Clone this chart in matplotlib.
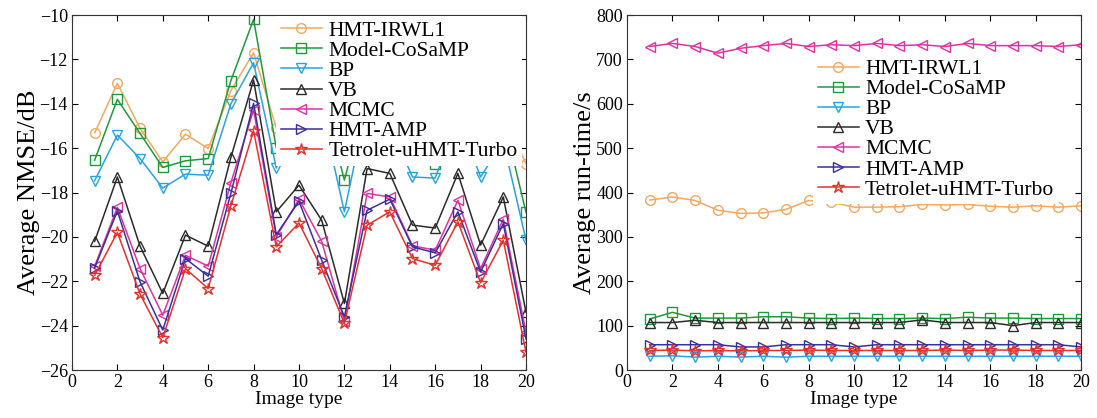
import numpy as np
import matplotlib
matplotlib.use('Agg')
import matplotlib.pyplot as plt

plt.rcParams['font.family'] = ['Liberation Serif', 'DejaVu Serif']
plt.rcParams['mathtext.fontset'] = 'stix'

image_type = np.arange(1, 21)
methods = ['HMT-IRWL1', 'Model-CoSaMP', 'BP', 'VB', 'MCMC', 'HMT-AMP', 'Tetrolet-uHMT-Turbo']
colors = ['#F4A860', '#1F9A3A', '#27A3E6', '#2B2B2B', '#E2329E', '#3B2F9E', '#E8302C']
markers = ['o', 's', 'v', '^', '<', '>', '*']

# average NMSE (dB)
nmse_irwl1 = [-15.31, -13.08, -15.11, -16.62, -15.37, -16.02, -13.41, -11.7, -15.1, -14.2,
              -15.0, -15.8, -13.8, -14.0, -15.3, -15.5, -14.0, -15.6, -14.5, -16.7]
nmse_cosamp = [-16.54, -13.8, -15.34, -16.87, -16.57, -16.47, -12.96, -10.2, -16.0, -15.2,
               -13.5, -17.44, -13.5, -14.5, -16.2, -16.7, -14.5, -16.0, -14.6, -18.9]
nmse_bp = [-17.47, -15.41, -16.47, -17.8, -17.17, -17.22, -14.0, -12.15, -16.9, -14.5,
           -14.3, -18.87, -14.0, -15.0, -17.3, -17.35, -14.6, -17.3, -15.7, -20.15]
nmse_vb = [-20.2, -17.3, -20.42, -22.55, -19.92, -20.42, -16.42, -12.93, -18.87, -17.67,
           -19.25, -23.0, -16.92, -17.14, -19.47, -19.6, -17.14, -20.37, -18.2, -23.4]
nmse_mcmc = [-21.32, -18.67, -21.43, -23.53, -20.83, -21.32, -17.56, -14.28, -20.0, -18.3,
             -20.2, -23.8, -18.04, -18.2, -20.4, -20.6, -18.35, -21.43, -19.2, -24.3]
nmse_amp = [-21.4, -18.83, -22.03, -24.2, -20.98, -21.77, -18.04, -13.98, -19.9, -18.4,
            -21.05, -23.6, -18.8, -18.3, -20.45, -20.72, -18.87, -21.58, -19.4, -24.6]
nmse_turbo = [-21.73, -19.8, -22.58, -24.54, -21.43, -22.33, -18.6, -15.22, -20.45, -19.37,
              -21.43, -23.9, -19.47, -18.87, -20.98, -21.28, -19.32, -22.07, -20.15, -25.2]

# average run-time (s)
time_irwl1 = [383, 390, 382, 360, 353, 354, 362, 382, 378, 367,
              367, 368, 373, 372, 373, 369, 367, 370, 367, 370]
time_cosamp = [115, 130, 117, 117, 117, 120, 120, 117, 116, 117,
               116, 116, 117, 116, 119, 117, 117, 116, 116, 116]
time_bp = [31, 32, 29, 31, 29, 31, 29, 31, 31, 31,
           31, 31, 31, 31, 31, 31, 31, 31, 31, 31]
time_vb = [107, 107, 112, 107, 107, 107, 107, 107, 107, 107,
           107, 107, 113, 107, 107, 107, 100, 107, 107, 107]
time_mcmc = [729, 736, 729, 714, 725, 731, 736, 729, 733, 731,
             736, 731, 733, 729, 736, 731, 731, 731, 729, 733]
time_amp = [57, 57, 57, 57, 52, 52, 57, 57, 57, 52,
            57, 57, 57, 57, 57, 57, 57, 57, 57, 52]
time_turbo = [44, 45, 43, 44, 43, 44, 44, 45, 44, 44,
              44, 44, 44, 45, 44, 45, 45, 44, 44, 44]

nmse = [nmse_irwl1, nmse_cosamp, nmse_bp, nmse_vb, nmse_mcmc, nmse_amp, nmse_turbo]
runtime = [time_irwl1, time_cosamp, time_bp, time_vb, time_mcmc, time_amp, time_turbo]

fig = plt.figure(figsize=(10.97, 4.18), dpi=100)
ax1 = fig.add_axes([0.0656, 0.1148, 0.4139, 0.8493])
ax2 = fig.add_axes([0.5716, 0.1148, 0.4139, 0.8493])


def draw(ax, data):
    for vals, name, c, m in zip(data, methods, colors, markers):
        ms = 9 if m == '*' else 7
        ax.plot(image_type, vals, color=c, marker=m, markersize=ms, markerfacecolor='none',
                markeredgewidth=1.0, linewidth=1.1, label=name)
    ax.set_xlim(0, 20)
    ax.set_xticks(np.arange(0, 21, 2))
    ax.tick_params(direction='in', top=True, right=True, labelsize=13, length=4, pad=3)
    ax.set_xlabel('Image type', fontsize=14, labelpad=0)


def add_legend(ax, anchor):
    ax.legend(loc='upper right', bbox_to_anchor=anchor, fontsize=15.5, frameon=True,
              framealpha=1, edgecolor='none', fancybox=False, handlelength=1.9,
              labelspacing=0.0, borderpad=0.2, handletextpad=0.3, borderaxespad=0.2)


draw(ax1, nmse)
ax1.set_ylim(-26, -10)
ax1.set_yticks(np.arange(-26, -9, 2))
ax1.set_ylabel('Average NMSE/dB', fontsize=19, labelpad=0)
add_legend(ax1, (1.0, 1.008))

draw(ax2, runtime)
ax2.set_ylim(0, 800)
ax2.set_yticks(np.arange(0, 801, 100))
ax2.set_ylabel('Average run-time/s', fontsize=19, labelpad=0)
add_legend(ax2, (0.96, 0.9))

for ax in (ax1, ax2):
    for s in ax.spines.values():
        s.set_color('#333333')

plt.savefig('out.png', dpi=100)
